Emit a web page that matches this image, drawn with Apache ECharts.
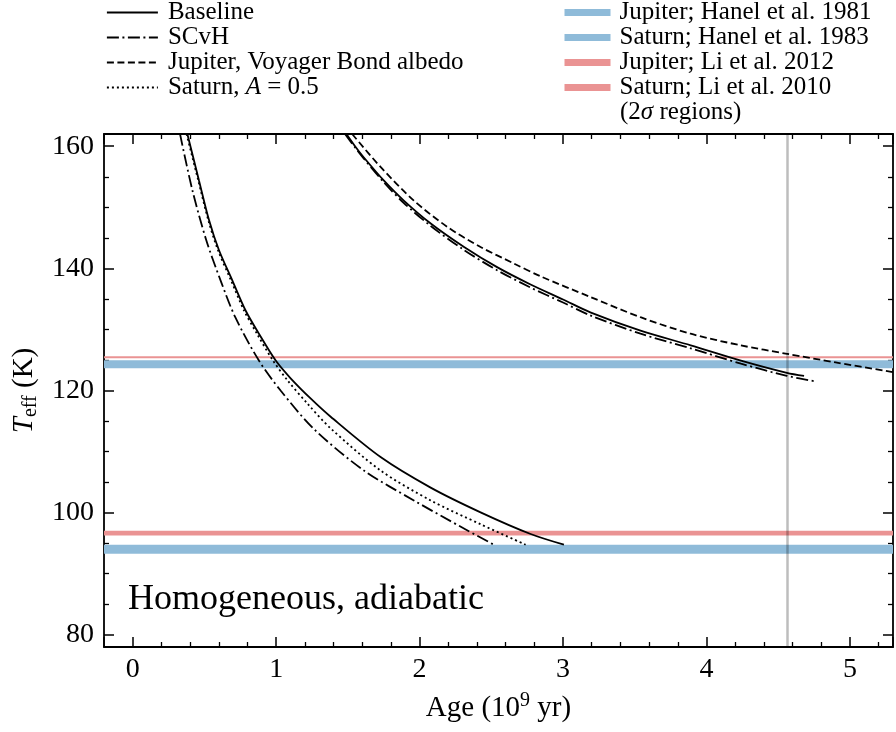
<!DOCTYPE html>
<html><head><meta charset="utf-8">
<script src="https://cdn.jsdelivr.net/npm/echarts@6/dist/echarts.min.js"></script>
<style>html,body{margin:0;padding:0;background:#fff}#c{width:896px;height:732px}</style>
</head><body><div id="c"></div>
<script>
const FONT = "'Liberation Serif', 'DejaVu Serif', serif";

// ---- Saturn models (age [Gyr], Teff [K]) ----
const satBaseline = [[0.381,162],[0.462,154.4],[0.532,147.9],[0.601,143.0],[0.695,138.0],[0.787,133.1],[0.88,129.3],[0.997,124.9],[1.101,122.0],[1.24,118.7],[1.38,115.7],[1.728,109.1],[2.077,104.1],[2.425,100.05],[2.774,96.5],[3.006,94.75]];
const satSCvH = [[0.33,162],[0.416,152.8],[0.513,144.6],[0.613,138.0],[0.715,132.0],[0.88,124.9],[1.031,120.0],[1.263,113.7],[1.612,106.9],[1.96,102.0],[2.309,97.4],[2.518,94.75]];
const satA05 = [[0.375,162],[0.457,154.4],[0.527,147.9],[0.594,143.0],[0.686,138.0],[0.776,133.1],[0.866,129.3],[0.978,124.9],[1.078,121.7],[1.22,117.8],[1.38,113.8],[1.728,106.9],[2.077,102.0],[2.425,98.1],[2.739,94.75]];

// ---- Jupiter models ----
const jupBaseline = [[1.49,162],[1.55,160.0],[1.61,158.2],[1.75,154.4],[1.89,151.1],[2.08,147.3],[2.31,143.5],[2.54,140.2],[2.77,137.4],[3.0,134.9],[3.19,132.8],[3.54,129.8],[3.89,127.4],[4.24,124.9],[4.56,122.9],[4.68,122.4]];
const jupSCvH = [[1.48,162],[1.55,159.8],[1.61,158.0],[1.75,154.1],[1.89,150.7],[2.08,146.9],[2.31,143.0],[2.54,139.7],[2.77,136.9],[3.0,134.4],[3.19,132.3],[3.54,129.3],[3.89,126.9],[4.24,124.4],[4.56,122.4],[4.76,121.5]];
const jupVoyager = [[1.53,162],[1.728,156.6],[1.96,151.1],[2.193,146.8],[2.425,143.5],[2.657,140.8],[2.843,138.7],[3.192,135.3],[3.54,132.0],[3.889,129.3],[4.237,127.4],[4.562,126.0],[4.9,124.6],[5.305,123.0]];

// ---- Observed 2-sigma bands [low, high] ----
const bandJupHanel = [123.65, 124.95];
const bandSatHanel = [93.25, 94.75];
const bandJupLi = [125.3, 125.6];
const bandSatLi = [96.25, 97.05];

const SOLAR_AGE = 4.56;
const xRange = [-0.2, 5.3];
const yRange = [78, 162];

const modelNames = ['Baseline', 'SCvH', 'Jupiter, Voyager Bond albedo', 'Saturn, A = 0.5'];
const bandNames = ['Jupiter; Hanel et al. 1981', 'Saturn; Hanel et al. 1983', 'Jupiter; Li et al. 2012', 'Saturn; Li et al. 2010'];

const BLUE = '#8fbbd9', RED = '#ea9393';
const SOLID = 'solid', DASHED = [7, 3.5], DASHDOT = [12, 3.5, 2, 3.5], DOTTED = [2, 3];

const lineSeries = (name, data, type) => ({
  type: 'line', name, data, symbol: 'none', showSymbol: false, smooth: 0.3,
  lineStyle: { color: '#000', width: 1.8, type }, itemStyle: { color: '#000' }, z: 3, silent: true
});
const bandSeries = (name, range, color) => ({
  type: 'line', name, data: [], symbol: 'none', showSymbol: false, lineStyle: { color, width: 7 }, itemStyle: { color }, z: 1, silent: true,
  markArea: { silent: true, itemStyle: { color, opacity: 1 }, data: [[{ yAxis: range[0] }, { yAxis: range[1] }]] }
});

const axisCommon = {
  type: 'value', axisLine: { show: true, onZero: false, lineStyle: { color: '#000', width: 1.8 } },
  axisTick: { show: true, inside: true, length: 10, lineStyle: { color: '#000', width: 1.5 } },
  minorTick: { show: true, length: 5, lineStyle: { color: '#000', width: 1.3 } },
  splitLine: { show: false }, minorSplitLine: { show: false }
};
const labelStyle = { fontFamily: FONT, fontSize: 28, color: '#000' };

const legendBase = {
  orient: 'vertical', top: 0, padding: 0, itemHeight: 14, itemGap: 0, selectedMode: false,
  lineStyle: { width: 'inherit' }, itemStyle: { opacity: 0, borderWidth: 0 }
};

const chart = echarts.init(document.getElementById('c'));
chart.setOption({
  animation: false,
  backgroundColor: '#fff',
  grid: { left: 104, right: 3, top: 134, bottom: 85, containLabel: false },
  xAxis: [
    Object.assign({}, axisCommon, {
      position: 'bottom', min: xRange[0], max: xRange[1],
      minorTick: Object.assign({}, axisCommon.minorTick, { splitNumber: 5 }),
      axisLabel: Object.assign({ margin: 9, showMinLabel: false, showMaxLabel: false }, labelStyle),
      name: 'Age (10{sup|9} yr)', nameLocation: 'middle', nameGap: 44,
      nameTextStyle: { fontFamily: FONT, fontSize: 29, color: '#000',
        rich: { sup: { fontFamily: FONT, fontSize: 20, color: '#000', padding: [0, 0, 14, 0] } } }
    }),
    Object.assign({}, axisCommon, {
      position: 'top', min: xRange[0], max: xRange[1],
      minorTick: Object.assign({}, axisCommon.minorTick, { splitNumber: 5 }),
      axisLabel: { show: false }
    })
  ],
  yAxis: [
    Object.assign({}, axisCommon, {
      position: 'left', min: yRange[0], max: yRange[1],
      minorTick: Object.assign({}, axisCommon.minorTick, { splitNumber: 4 }),
      axisLabel: Object.assign({ margin: 10, showMinLabel: false, showMaxLabel: false }, labelStyle),
      name: '{t|T}{s|eff} (K)', nameLocation: 'middle', nameGap: 60,
      nameTextStyle: { fontFamily: FONT, fontSize: 29, color: '#000',
        rich: { t: { fontFamily: FONT, fontSize: 29, fontStyle: 'italic', color: '#000' },
                s: { fontFamily: FONT, fontSize: 20, color: '#000', padding: [14, 0, 0, 0] } } }
    }),
    Object.assign({}, axisCommon, {
      position: 'right', min: yRange[0], max: yRange[1],
      minorTick: Object.assign({}, axisCommon.minorTick, { splitNumber: 4 }),
      axisLabel: { show: false }
    })
  ],
  legend: [
    Object.assign({}, legendBase, { data: modelNames, left: 106, itemWidth: 51,
      formatter: n => n === 'Saturn, A = 0.5' ? 'Saturn, {i|A} = 0.5' : n,
      textStyle: { fontFamily: FONT, fontSize: 25, color: '#000', lineHeight: 25, padding: [0, 0, 0, 5],
        rich: { i: { fontFamily: FONT, fontSize: 25, fontStyle: 'italic', color: '#000', lineHeight: 25 } } } }),
    Object.assign({}, legendBase, { data: bandNames, left: 561, itemWidth: 46,
      textStyle: { fontFamily: FONT, fontSize: 25, color: '#000', lineHeight: 25, padding: [0, 0, 0, 4] } })
  ],
  graphic: [
    { type: 'text', left: 128, top: 582, silent: true,
      style: { text: 'Homogeneous, adiabatic', fontFamily: FONT, fontSize: 36, fill: '#000' } },
    { type: 'text', left: 620, top: 100, silent: true,
      style: { text: '(2{s|σ} regions)', fontFamily: FONT, fontSize: 25, fill: '#000',
        rich: { s: { fontFamily: FONT, fontSize: 25, fontStyle: 'italic', fill: '#000' } } } }
  ],
  series: [
    bandSeries(bandNames[0], bandJupHanel, BLUE),
    bandSeries(bandNames[1], bandSatHanel, BLUE),
    bandSeries(bandNames[2], bandJupLi, RED),
    bandSeries(bandNames[3], bandSatLi, RED),
    lineSeries('Baseline', satBaseline, SOLID),
    lineSeries('Baseline', jupBaseline, SOLID),
    lineSeries('SCvH', satSCvH, DASHDOT),
    lineSeries('SCvH', jupSCvH, DASHDOT),
    lineSeries('Jupiter, Voyager Bond albedo', jupVoyager, DASHED),
    lineSeries('Saturn, A = 0.5', satA05, DOTTED),
    { type: 'line', name: 'solar-age', data: [], z: 4, silent: true,
      markLine: { silent: true, symbol: 'none', label: { show: false },
        lineStyle: { color: 'rgba(0,0,0,0.26)', width: 2.5, type: 'solid' }, data: [{ xAxis: SOLAR_AGE }] } }
  ]
});
</script></body></html>
